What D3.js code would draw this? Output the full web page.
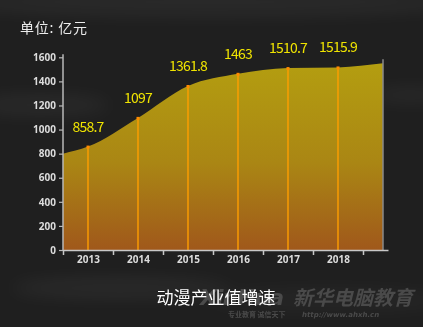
<!DOCTYPE html>
<html>
<head>
<meta charset="utf-8">
<script src="https://cdn.jsdelivr.net/npm/d3@7/dist/d3.min.js"></script>
<style>
  html, body { margin: 0; padding: 0; background: #1f1f1f; }
  svg { display: block; }
</style>
</head>
<body>
<svg id="chart" width="423" height="327"></svg>
<script>
// Animation industry output value (亿元), 2013–2018
const years = ["2013", "2014", "2015", "2016", "2017", "2018"];
const values = [858.7, 1097, 1361.8, 1463, 1510.7, 1515.9];
// Where the filled curve meets the left axis and the right border
const areaStart = { pos: -0.5, value: 800 };
const areaEnd = { pos: 5.9, value: 1550 };
const yTicks = [0, 200, 400, 600, 800, 1000, 1200, 1400, 1600];
const unitLabel = "单位: 亿元";
const chartTitle = "动漫产业值增速";

const W = 423, H = 327;
const svg = d3.select("#chart");
const defs = svg.append("defs");

// Dark backdrop with faint smoky wisps
svg.append("rect").attr("width", W).attr("height", H).attr("fill", "#1f1f1f");
defs.append("filter").attr("id", "smoke")
  .attr("x", "-50%").attr("y", "-50%").attr("width", "200%").attr("height", "200%")
  .append("feGaussianBlur").attr("stdDeviation", 9);
const wisps = [
  { cx: 210, cy: 2, rx: 260, ry: 14, o: 0.05 },
  { cx: 40, cy: 105, rx: 70, ry: 10, o: 0.05 },
  { cx: 410, cy: 95, rx: 40, ry: 6, o: 0.06 },
  { cx: 120, cy: 288, rx: 110, ry: 9, o: 0.06 },
  { cx: 330, cy: 300, rx: 120, ry: 12, o: 0.03 }
];
svg.append("g").attr("filter", "url(#smoke)")
  .selectAll("ellipse").data(wisps).join("ellipse")
  .attr("cx", d => d.cx).attr("cy", d => d.cy)
  .attr("rx", d => d.rx).attr("ry", d => d.ry)
  .attr("fill", "#ffffff").attr("opacity", d => d.o);

// Scales: x in category-index units, boundaries at half steps
const x = d3.scaleLinear().domain([-0.5, 6]).range([63, 388]);
const y = d3.scaleLinear().domain([0, 1600]).range([250, 57.3]);

// Area fill gradient
const grad = defs.append("linearGradient").attr("id", "areaFill")
  .attr("gradientUnits", "userSpaceOnUse")
  .attr("x1", 0).attr("x2", 0).attr("y1", y(1600)).attr("y2", y(0));
grad.append("stop").attr("offset", "0%").attr("stop-color", "#b49f10");
grad.append("stop").attr("offset", "55%").attr("stop-color", "#aa8614");
grad.append("stop").attr("offset", "100%").attr("stop-color", "#a0581b");

const pts = [areaStart]
  .concat(values.map((v, i) => ({ pos: i, value: v })))
  .concat([areaEnd]);

const area = d3.area()
  .x(d => x(d.pos))
  .y0(y(0))
  .y1(d => y(d.value))
  .curve(d3.curveMonotoneX);

svg.append("path").datum(pts)
  .attr("d", area)
  .attr("fill", "url(#areaFill)");

// Right border of the plot
svg.append("line")
  .attr("x1", x(areaEnd.pos)).attr("x2", x(areaEnd.pos))
  .attr("y1", y(areaEnd.value) - 4).attr("y2", y(0))
  .attr("stroke", "#8a8a8a").attr("stroke-width", 1.5);

// Drop lines from each year's value
const drops = svg.append("g");
drops.selectAll("line").data(values).join("line")
  .attr("x1", (d, i) => x(i)).attr("x2", (d, i) => x(i))
  .attr("y1", y(0)).attr("y2", d => y(d))
  .attr("stroke", "#ff9e00").attr("stroke-width", 1.4);
drops.selectAll("rect").data(values).join("rect")
  .attr("x", (d, i) => x(i) - 1.5).attr("y", d => y(d) - 1)
  .attr("width", 3).attr("height", 3)
  .attr("fill", "#ff8a00");

// Value labels
svg.append("g").selectAll("text").data(values).join("text")
  .attr("x", (d, i) => x(i))
  .attr("y", d => y(d) - 15)
  .attr("text-anchor", "middle")
  .attr("font-family", "'Noto Sans CJK SC', 'Noto Sans', sans-serif")
  .attr("font-size", 14)
  .attr("letter-spacing", -0.8)
  .attr("fill", "#f0e400")
  .text(d => d);

// Y axis
const yAxis = svg.append("g")
  .attr("transform", `translate(${x(-0.5)},0)`)
  .call(d3.axisLeft(y).tickValues(yTicks).tickFormat(d3.format("d"))
    .tickSize(4).tickSizeOuter(0).tickPadding(3));
yAxis.select(".domain").attr("stroke", "#b8b8b8").attr("stroke-width", 1.5)
  .attr("d", `M0,${y(0)}V${y(1600) - 3}`);
yAxis.selectAll(".tick line").attr("stroke", "#b8b8b8").attr("stroke-width", 1.2);
yAxis.selectAll(".tick text")
  .attr("fill", "#dcdcdc")
  .attr("font-family", "'Noto Sans', sans-serif")
  .attr("font-weight", "bold")
  .attr("font-size", 10);

// X axis: boundary ticks, then the year labels between them
const xAxis = svg.append("g")
  .attr("transform", `translate(0,${y(0)})`)
  .call(d3.axisBottom(x).tickValues(d3.range(-0.5, 6, 1)).tickSize(5).tickSizeOuter(0).tickFormat(""));
xAxis.select(".domain").attr("stroke", "#c8c8c8").attr("stroke-width", 1.5);
xAxis.selectAll(".tick line").attr("stroke", "#c8c8c8").attr("stroke-width", 1.5);

const xLabels = svg.append("g")
  .attr("transform", `translate(0,${y(0)})`)
  .call(d3.axisBottom(x).tickValues(d3.range(0, 6)).tickSize(0).tickPadding(6)
    .tickFormat(i => years[i]));
xLabels.select(".domain").remove();
xLabels.selectAll(".tick text")
  .attr("fill", "#dcdcdc")
  .attr("font-family", "'Noto Sans', sans-serif")
  .attr("font-weight", "bold")
  .attr("font-size", 10);

// Unit note
svg.append("text")
  .attr("x", 20).attr("y", 33)
  .attr("font-family", "'Noto Sans CJK SC', sans-serif")
  .attr("font-size", 14)
  .attr("letter-spacing", 0.8)
  .attr("fill", "#ececec")
  .text(unitLabel);

// Publisher mark
const mark = svg.append("g").attr("fill", "#4a4a4a");
mark.append("text")
  .attr("x", 200).attr("y", 305)
  .attr("font-family", "'DejaVu Sans', sans-serif")
  .attr("font-weight", "bold").attr("font-style", "italic")
  .attr("font-size", 22).attr("letter-spacing", -1)
  .text("XinHua");
mark.append("text")
  .attr("x", 293).attr("y", 305)
  .attr("font-family", "'Noto Sans CJK SC', sans-serif")
  .attr("font-weight", "bold").attr("font-style", "italic")
  .attr("font-size", 20)
  .text("新华电脑教育");
mark.append("text")
  .attr("x", 228).attr("y", 317)
  .attr("font-family", "'Noto Sans CJK SC', sans-serif")
  .attr("font-weight", "bold")
  .attr("font-size", 7)
  .text("专业教育  诚信天下");
mark.append("text")
  .attr("x", 302).attr("y", 317)
  .attr("font-family", "'DejaVu Sans', sans-serif")
  .attr("font-weight", "bold").attr("font-style", "italic")
  .attr("font-size", 7)
  .text("http://www.ahxh.cn");

// Chart title
svg.append("text")
  .attr("x", 216).attr("y", 304)
  .attr("text-anchor", "middle")
  .attr("font-family", "'Noto Sans CJK SC', sans-serif")
  .attr("font-size", 17)
  .attr("fill", "#ffffff")
  .text(chartTitle);
</script>
</body>
</html>
